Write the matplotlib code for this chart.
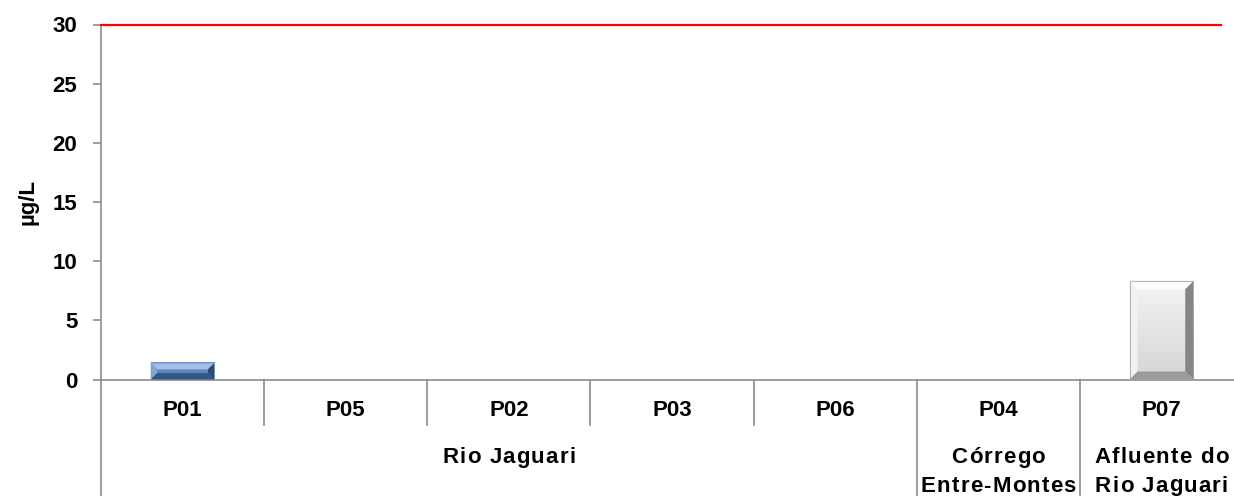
import matplotlib
matplotlib.use("Agg")
import matplotlib.pyplot as plt
import numpy as np
from matplotlib.patches import Polygon
from matplotlib.lines import Line2D
from matplotlib.transforms import blended_transform_factory, offset_copy
from matplotlib.colors import LinearSegmentedColormap
from matplotlib.font_manager import FontProperties

plt.rcParams['font.family'] = ['Liberation Sans', 'DejaVu Sans']

# Sampling points, measured concentrations and water bodies
sites = ["P01", "P05", "P02", "P03", "P06", "P04", "P07"]
values = [1.4, 0.0, 0.0, 0.0, 0.0, 0.0, 8.3]
groups = ["Rio Jaguari", "Córrego\nEntre-Montes", "Afluente do\nRio Jaguari"]
group_sizes = [5, 1, 1]
limit = 30
yticks = [0, 5, 10, 15, 20, 25, 30]

# bar styles: (top, left, right, bottom, face-top, face-bottom)
bar_styles = {
    "P01": ("#a3c0e6", "#7fa5d6", "#2e4a72", "#34557f", "#6f98cf", "#4e79b3"),
    "P07": ("#fdfdfd", "#f2f2f2", "#858585", "#9b9b9b", "#f4f4f4", "#d6d6d6"),
}

FS = 16
W, H = 1234, 496
fig = plt.figure(figsize=(W / 100, H / 100), dpi=100)
ax_l, ax_r = 101 / W, 1243 / W
ax_b, ax_t = (H - 379.5) / H, (H - 24.5) / H
ax = fig.add_axes([ax_l, ax_b, ax_r - ax_l, ax_t - ax_b])

n = len(sites)
x = np.arange(n)
ax.set_xlim(-0.5, n - 0.5)
ax.set_ylim(0, 30)

gray = "#8c8c8c"
for s in ["top", "right"]:
    ax.spines[s].set_visible(False)
for s in ["left", "bottom"]:
    ax.spines[s].set_color(gray)
    ax.spines[s].set_linewidth(1.2)
    ax.spines[s].set_zorder(1)

ax.set_yticks(yticks)
ax.set_yticklabels([str(t) for t in yticks], fontsize=FS, fontweight="bold")
ax.tick_params(axis="y", length=6, width=1.2, color=gray, pad=11, direction="out")
ax.set_xticks([])
ax.set_ylabel("µg/L", fontsize=FS, fontweight="bold", labelpad=10)

# limit line
ax.axhline(limit, xmin=0, xmax=(1221 - 101) / (1243 - 101), color="#ff0000",
           lw=1.6, zorder=3, clip_on=False)

bar_w = 0.39
bars = ax.bar(x, values, width=bar_w, color="none", edgecolor="none", zorder=2)

# pixel -> data scale factors
sx = n / ((ax_r - ax_l) * W)
sy = 30 / ((ax_t - ax_b) * H)

for site, rect in zip(sites, bars):
    h = rect.get_height()
    if h <= 0 or site not in bar_styles:
        continue
    ctop, cleft, cright, cbot, fa, fb = bar_styles[site]
    x0 = rect.get_x()
    x1 = x0 + rect.get_width()
    y0, y1 = 0, h
    hpx = h / sy
    bpx = min(8, hpx / 2.6)
    bx, by = bpx * sx, bpx * sy
    cmap = LinearSegmentedColormap.from_list("f", [fb, fa])
    grad = np.linspace(0, 1, 64).reshape(-1, 1)
    ax.imshow(grad, cmap=cmap, extent=(x0, x1, y0, y1), origin="lower",
              aspect="auto", zorder=2, interpolation="bilinear")
    polys = [
        ([(x0, y1), (x1, y1), (x1 - bx, y1 - by), (x0 + bx, y1 - by)], ctop),
        ([(x0, y0), (x0 + bx, y0 + by), (x0 + bx, y1 - by), (x0, y1)], cleft),
        ([(x1, y0), (x1 - bx, y0 + by), (x1 - bx, y1 - by), (x1, y1)], cright),
        ([(x0, y0), (x1, y0), (x1 - bx, y0 + by), (x0 + bx, y0 + by)], cbot),
    ]
    for pts, c in polys:
        ax.add_patch(Polygon(pts, closed=True, facecolor=c, edgecolor="none", zorder=2.1))
    ax.add_patch(plt.Rectangle((x0, y0), x1 - x0, y1 - y0, fill=False,
                               edgecolor="#9a9a9a", lw=0.5, zorder=2.2))

ax.set_xlim(-0.5, n - 0.5)
ax.set_ylim(0, 30)

tr = blended_transform_factory(ax.transData, fig.transFigure)
renderer = fig.canvas.get_renderer()
fprop = FontProperties(family=['Liberation Sans', 'DejaVu Sans'], weight="bold", size=FS)


def fy(px):
    return (H - px) / H


def text_w(s):
    return renderer.get_text_width_height_descent(s, fprop, ismath=False)[0]


def tracked_text(xc, y, s, spacing_px):
    """Centered bold text with extra letter spacing (in pixels)."""
    space_w = text_w("a a") - 2 * text_w("a")
    widths = [space_w if c == " " else text_w(c) for c in s]
    total = sum(widths) + spacing_px * (len(s) - 1)
    off = -total / 2
    for c, w in zip(s, widths):
        if c != " ":
            ax.text(xc, y, c, transform=offset_copy(tr, fig=fig, x=off, y=0, units="dots"),
                    ha="left", va="baseline", fontproperties=fprop, clip_on=False)
        off += w + spacing_px


# category labels
for xi, s in zip(x, sites):
    ax.text(xi, fy(416), s, transform=tr, ha="center", va="baseline",
            fontproperties=fprop, clip_on=False)

# dividers: short within a group, long at group boundaries
bounds = np.cumsum([0] + group_sizes)
for b in range(n + 1):
    xb = b - 0.5
    bottom = 0.0 if b in bounds else fy(425)
    ax.add_line(Line2D([xb, xb], [fy(379.5), bottom], transform=tr, color=gray,
                       lw=1.2, clip_on=False, zorder=1))

# group labels
for gi, g in enumerate(groups):
    xc = (bounds[gi] + bounds[gi + 1] - 1) / 2
    for li, line in enumerate(g.split("\n")):
        tracked_text(xc, fy(463 + 28.5 * li), line, 1.2)

fig.savefig("out.png", dpi=100)
